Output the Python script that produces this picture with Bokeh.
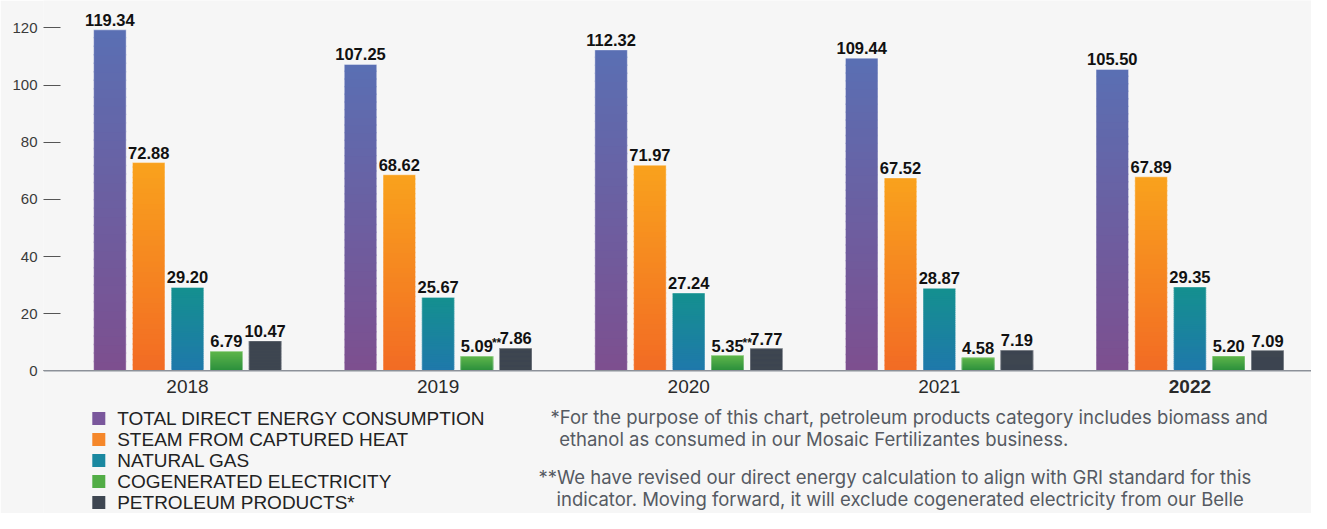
from bokeh.plotting import figure
from bokeh.models import ColumnDataSource, Range1d, FixedTicker, Span
from bokeh.core.properties import value
from bokeh.embed import file_html
from bokeh.resources import INLINE

# ---------------- data ----------------
years = ["2018", "2019", "2020", "2021", "2022"]
highlight_year = "2022"
series_names = ["TOTAL DIRECT ENERGY CONSUMPTION", "STEAM FROM CAPTURED HEAT",
                "NATURAL GAS", "COGENERATED ELECTRICITY", "PETROLEUM PRODUCTS*"]
total_direct = [119.34, 107.25, 112.32, 109.44, 105.50]
steam_heat = [72.88, 68.62, 71.97, 67.52, 67.89]
natural_gas = [29.20, 25.67, 27.24, 28.87, 29.35]
cogen_elec = [6.79, 5.09, 5.35, 4.58, 5.20]
petroleum = [10.47, 7.86, 7.77, 7.19, 7.09]
cogen_notes = ["", "**", "**", "", ""]
y_ticks = [0, 20, 40, 60, 80, 100, 120]
footnotes = [
    "*For the purpose of this chart, petroleum products category includes biomass and",
    "ethanol as consumed in our Mosaic Fertilizantes business.",
    "**We have revised our direct energy calculation to align with GRI standard for this",
    "indicator. Moving forward, it will exclude cogenerated electricity from our Belle",
]
series_values = [total_direct, steam_heat, natural_gas, cogen_elec, petroleum]

# ---------------- styles ----------------
BG = "#f6f6f6"
grad = [("#5a6fb3", "#7d4f8f"), ("#f9a21d", "#f26b24"), ("#14908f", "#1f78ab"),
        ("#5fb64a", "#2a8e3d"), ("#3e4651", "#3e4651")]
legend_colors = ["#7a579c", "#f5872a", "#1a88a0", "#52ad46", "#3e4651"]

W, H = 1311, 513
FRAME_LEFT = 43
PX_UNIT = 2.857          # px per value unit
Y_ZERO_PX = 370.3        # px of value 0
X0_PX, STEP_PX = 187.0, 250.6
def dx(px):
    return (px - X0_PX) / STEP_PX
def dy(py):
    return (Y_ZERO_PX - py) / PX_UNIT

BAR_W = 32.5 / STEP_PX
OFF = 38.8 / STEP_PX
offsets = [-2 * OFF, -OFF, 0, OFF, 2 * OFF]

p = figure(width=W, height=H, output_backend="svg", toolbar_location=None,
           x_range=Range1d(dx(FRAME_LEFT), dx(W)), y_range=Range1d(dy(H), dy(0)),
           x_axis_type=None, min_border_left=FRAME_LEFT, min_border_right=0,
           min_border_top=0, min_border_bottom=0,
           background_fill_color=BG, border_fill_color=BG, outline_line_color=None)
p.ygrid.grid_line_color = None

ax = p.yaxis[0]
ax.ticker = FixedTicker(ticks=y_ticks)
ax.axis_line_color = None
ax.major_tick_in = 17
ax.major_tick_out = 0
ax.major_tick_line_color = "#555555"
ax.minor_tick_line_color = None
ax.major_label_standoff = 6
ax.major_label_text_font = "Liberation Sans"
ax.major_label_text_font_size = "15px"
ax.major_label_text_color = "#3a3a3a"


def mix(c1, c2, t):
    a = [int(c1[i:i + 2], 16) for i in (1, 3, 5)]
    b = [int(c2[i:i + 2], 16) for i in (1, 3, 5)]
    return "#%02x%02x%02x" % tuple(round(a[j] + (b[j] - a[j]) * t) for j in range(3))


N = 40
LABEL_FONT = value("Liberation Sans")
for s, vals in enumerate(series_values):
    top_c, bot_c = grad[s]
    xs, bots, tops, cols = [], [], [], []
    for i, v in enumerate(vals):
        for k in range(N):
            xs.append(i + offsets[s])
            bots.append(v * k / N)
            tops.append(min(v, v * (k + 1) / N + 0.5))
            cols.append(mix(bot_c, top_c, (k + 0.5) / N))
    src = ColumnDataSource(dict(x=xs, bottom=bots, top=tops, color=cols))
    p.vbar(x="x", bottom="bottom", top="top", width=BAR_W, fill_color="color",
           line_color=None, source=src)
    p.vbar(x=[i + offsets[s] for i in range(len(vals))], top=vals, bottom=0,
           width=BAR_W, fill_color=None, line_color="white", line_alpha=0.4, line_width=1)
    lab = ColumnDataSource(dict(x=[i + offsets[s] for i in range(len(vals))], y=vals,
                                text=["%.2f" % v for v in vals]))
    p.text(x="x", y="y", text="text", source=lab, text_align="center",
           text_baseline="alphabetic", y_offset=-10, text_font=LABEL_FONT,
           text_font_style="bold", text_font_size="16.5px", text_color="#111111")

# ** notes on cogenerated electricity
nx = [i + offsets[3] for i, n in enumerate(cogen_notes) if n]
ny = [cogen_elec[i] for i, n in enumerate(cogen_notes) if n]
nt = [n for n in cogen_notes if n]
p.text(x=nx, y=ny, text=nt, text_align="left", text_baseline="alphabetic",
       x_offset=15, y_offset=-13, text_font=LABEL_FONT,
       text_font_style="bold", text_font_size="12px", text_color="#111111")

# baseline
p.add_layout(Span(location=0, dimension="width", line_color="#8c9199", line_width=1.5))

# year labels
ysrc = ColumnDataSource(dict(x=list(range(len(years))), y=[0] * len(years), text=years,
                             style=["bold" if y == highlight_year else "normal" for y in years]))
p.text(x="x", y="y", text="text", source=ysrc, text_align="center", text_baseline="middle",
       y_offset=16, text_font=value("Liberation Sans"), text_font_style="style",
       text_font_size="19px", text_color="#2a2a2a")

# legend
leg_y = [418 + 21 * k for k in range(5)]
p.scatter(x=[dx(98.3)] * 5, y=[dy(v) for v in leg_y], marker="square", size=13,
          fill_color=legend_colors, line_color=None)
p.text(x=[dx(116.7)] * 5, y=[dy(v) for v in leg_y], text=series_names,
       text_align="left", text_baseline="middle", text_font=value("Liberation Sans"),
       text_font_size="19px", text_color="#222222")

# footnotes
fn_x = [550, 558.7, 538, 556]
fn_y = [416, 438.5, 476, 498.5]
p.text(x=[dx(v) for v in fn_x], y=[dy(v) for v in fn_y], text=footnotes,
       text_align="left", text_baseline="middle", text_font=value("Inter"),
       text_font_size="18.5px", text_color="#555a62")

open("out.html", "w").write(file_html(p, INLINE))
